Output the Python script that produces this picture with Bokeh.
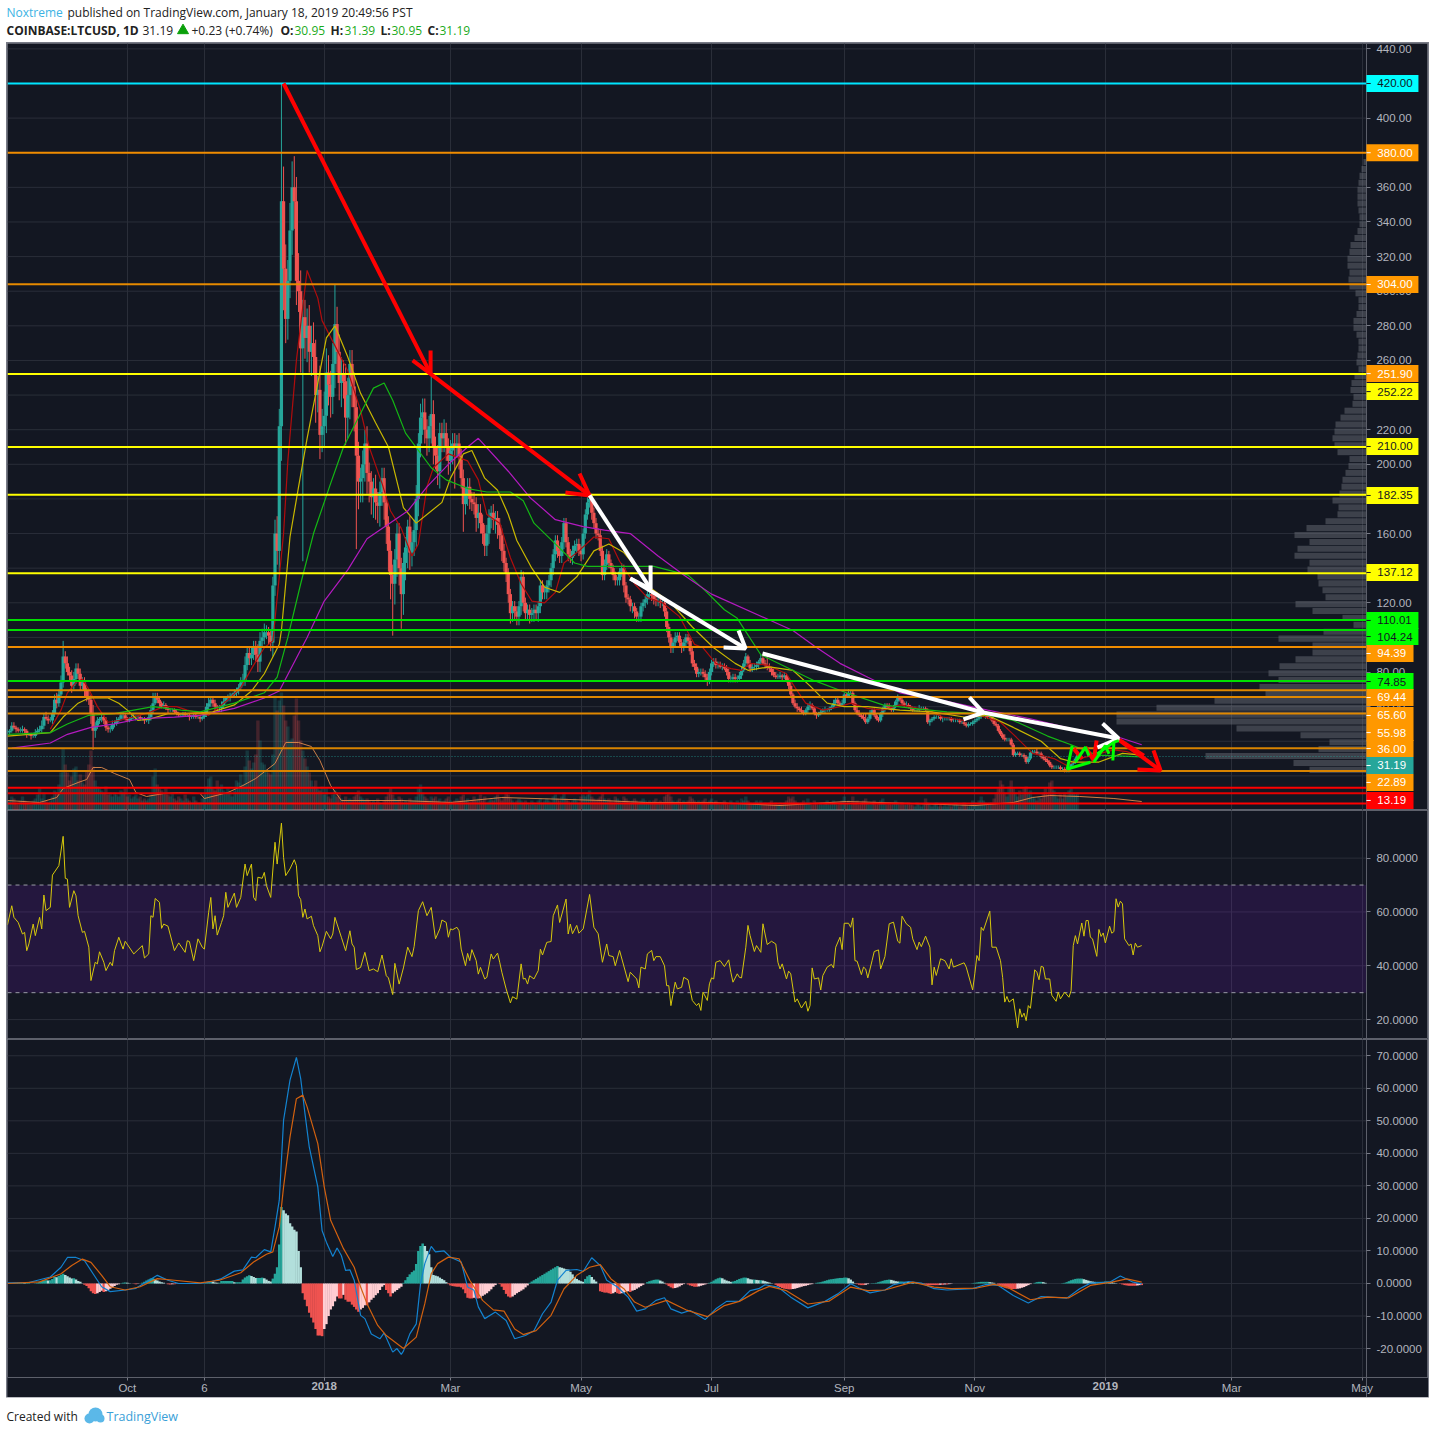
from bokeh.plotting import figure
from bokeh.layouts import column
from bokeh.models import (Range1d, LinearAxis, FixedTicker, Grid, Label, BoxAnnotation,
                          NumeralTickFormatter, ColumnDataSource)
from bokeh.core.properties import value
from bokeh.embed import file_html
from bokeh.resources import INLINE

closes = [
45,46,49,48,47,46,46,47,46,44, 44,43,43,45,46,47,49,54,53,52, 52,56,64,62,67,74,89,85,80,78,
72,76,82,79,72,74,69,66,64,56, 46,49,52,53,54,52,48,47,47,50, 50,52,53,55,55,53,52,53,54,54,
54,54,53,53,52,52,54,58,62,65, 64,62,60,61,59,58,58,58,57,56, 55,55,56,55,55,54,54,55,54,54,
53,54,56,60,62,64,62,60,59,59, 61,63,65,65,66,67,68,69,71,74, 75,84,91,88,90,94,90,86,98,100,
103,103,101,97,130,160,150,222,352,313, 284,306,335,360,352,306,300,267,285,273,
280,265,270,262,240,243,217,222,228,253, 246,239,258,281,265,247,252,248,227,240,
258,245,233,205,190,192,200,212,195,190, 181,186,178,176,184,192,178,164,150,136,
131,145,160,140,125,143,152,164,149,155, 162,180,212,227,230,220,215,222,229,210,
205,196,218,215,218,210,202,208,212,210, 212,205,192,177,182,187,180,178,177,169,
172,166,160,153,160,169,172,168,169,165, 159,150,143,137,125,114,118,115,112,118,
135,120,114,116,113,114,116,114,118,130, 126,126,130,133,140,148,156,150,147,155,
166,155,148,146,150,153,154,150,148,160, 171,178,180,172,166,160,159,150,136,142,
148,143,140,136,133,133,138,140,130,123, 122,118,118,115,112,112,118,120,122,125,
125,124,122,121,121,120,120,115,106,100, 94,97,100,101,97,94,97,100,98,92,
85,83,79,80,80,79,77,75,80,85, 86,84,84,83,83,82,80,76,76,77,
76,76,78,81,85,89,85,82,83,83, 84,86,88,85,84,83,82,80,78,77,
77,78,77,78,75,72,67,62,60,59, 58,57,56,58,60,61,59,56,55,56,
57,58,58,58,59,60,62,64,62,61, 62,67,66,68,68,62,58,56,55,54,
53,51,53,56,58,55,53,52,56,59, 61,60,59,58,60,63,65,64,62,61,
61,60,59,58,58,58,59,59,59,58, 51,52,53,54,54,54,53,53,53,53,
53,52,52,52,52,51,51,50,49,50, 50,51,52,53,54,55,55,55,54,54,
52,50,49,46,44,42,41,41,41,38, 32,33,33,32,32,31,28,30,33.5,34,
34,33,33,31,30,29,28,26,25,25, 25,25,24,24,23,23,25,27,28,30,
32,33,33,33,32,31,30,30,29,31, 32,33,33,33,34,35,36,36,37,40,
39,37,34,33,32,32,32,32,32,31, 31.19]

wick_up = [
2,1,2,2,1,1,2,2,1,1, 1,1,2,2,2,2,3,2,3,2, 2,2,3,4,3,4,9,3,4,3, 3,4,3,3,3,3,3,2,3,3,
5,2,2,1,2,2,2,1,2,2, 2,2,1,2,2,1,1,1,1,2, 1,1,1,1,1,1,2,3,6,3, 3,2,1,2,1,1,1,1,1,1,
1,1,1,1,1,1,1,1,1,1, 1,1,2,2,3,2,2,2,1,2, 2,2,1,2,2,1,2,2,2,3, 4,5,4,4,4,4,4,6,5,5,
5,4,3,3,5,8,10,10,68,20, 14,12,16,15,18,14,16,12,10,10, 10,12,10,12,10,8,14,10,14,14,
10,8,12,23,10,10,10,8,10,10, 8,8,8,6,8,6,8,8,10,6, 6,6,8,6,6,6,6,5,6,6, 6,6,6,6,6,6,6,4,6,6,
6,8,6,8,8,8,6,6,23,8, 6,6,6,6,8,6,5,6,6,6, 5,6,4,5,5,5,5,4,6,4, 5,5,5,5,5,5,4,5,4,4,
4,4,4,3,3,3,3,3,3,3, 4,3,3,3,3,3,3,3,3,3, 3,3,3,3,3,3,3,3,3,3, 3,3,3,3,3,3,3,3,3,3,
3,3,2,3,3,3,3,3,3,3, 3,2,2,2,2,2,2,3,2,2, 2,2,2,2,2,2,2,2,2,2, 2,2,2,2,2,2,2,2,2,2,
2,2,3,2,2,2,2,2,2,2, 2,2,2,2,2,2,2,2,2,2, 2,2,2,2,2,2,2,2,2,2, 2,2,2,2,2,2,1,2,2,2,
2,1,2,2,2,5,2,1,2,2, 2,2,1,2,1,2,2,1,2,2, 1,2,1,1,2,2,1,1,1,1, 1,1,2,1,1,1,2,1,1,1,
2,1,1,2,1,1,1,2,2,1, 2,3,1,2,1,1,1,1,1,1, 1,1,2,1,1,1,2,1,1,1, 2,1,1,1,2,1,2,1,1,1,
1,1,1,1,1,1,1,1,1,1, 1,1,1,1,1,1,1,1,1,1, 1,1,1,1,1,1,2,1,1,1, 1,1,1,1,1,1,2,1,1,1,
1,1,1,1,1,1,1,1,1,1, 1,2,1,1,1,1,1,1,1,1, 1,1,1,1,1,1,1,1,1,1, 1,1,1,1,1,1,1,1,2,1, 1,1,1,1,1,1,1,1,1,1, 1]

wick_dn = [
1,1,1,1,2,1,1,1,2,2, 1,2,1,1,1,1,2,2,1,2, 1,2,2,3,2,2,3,3,2,3, 4,2,3,3,3,2,3,3,3,6,
11,4,2,2,2,2,2,2,2,1, 2,1,1,1,2,1,1,1,1,1, 2,1,1,1,2,1,2,2,2,1, 2,2,1,1,1,2,1,1,1,1,
1,1,1,1,1,2,1,1,1,1, 2,1,1,2,2,2,2,2,1,2, 2,2,1,2,2,1,2,2,2,2, 2,3,3,4,4,3,4,6,6,4,
4,4,5,5,8,6,8,12,20,24, 14,12,10,14,16,14,12,14,123,12, 14,12,14,10,16,10,14,10,12,10,
12,12,10,14,12,10,14,10,16,12, 14,12,14,54,16,12,14,10,12,12, 10,12,10,10,12,8,10,10,12,14,
30,12,10,10,20,12,10,12,10,8, 8,10,10,8,10,8,10,8,10,10, 8,8,10,8,8,8,8,6,8,24,
6,8,6,16,6,6,6,5,6,8, 6,6,6,6,6,6,6,6,8,8, 8,6,5,5,5,6,5,5,5,5, 5,5,4,4,5,4,5,4,5,4,
4,4,4,4,4,4,4,4,4,4, 4,3,4,3,4,3,4,3,4,3, 3,3,3,4,3,3,3,3,3,3, 3,3,3,3,3,3,3,3,4,3,
3,3,4,4,3,3,3,3,3,3, 3,3,3,3,3,3,2,3,3,3, 3,3,2,2,2,3,2,2,2,2, 2,2,2,2,2,2,2,3,2,2,
2,2,2,1,2,1,2,2,2,2, 2,2,1,2,1,2,2,2,2,2, 2,2,2,1,2,2,2,2,1,1, 1,1,2,1,1,2,1,1,1,2,
1,1,1,1,2,2,1,1,2,1, 1,1,2,1,1,1,1,1,1,1, 1,1,1,1,1,1,1,1,1,1, 1,1,1,1,1,1,1,1,1,2,
2,1,1,1,1,1,2,1,1,1, 1,1,1,1,1,1,1,1,1,1, 1,2,1,1,1,1,1,2,1,1, 1,1,1,1,1,1,1,1,1,1,
1,1,1,1,1,1,1,2,1,1, 1,1,1,1,1,1,1,1,1,1, 1,1,1,1,1,1,1,1,1,1, 1,1,1,1,1,1,1,1,1,1, 1,1,1,1,1,1,1,1,1,1, 0]

volume = [
8,10,14,12,8,6,10,14,10,8, 8,6,10,12,16,22,12,18,10,8, 10,14,20,18,26,38,62,46,38,30,
34,42,44,30,36,28,26,40,46,60, 44,30,24,22,20,18,24,16,18,14, 18,16,14,20,18,22,14,16,12,14,
16,12,14,10,12,10,12,16,34,42, 26,22,20,18,22,16,14,18,12,10, 14,12,10,16,12,10,8,14,10,8,
8,12,16,24,32,34,22,20,30,22, 26,20,18,22,18,14,20,30,28,36, 26,44,60,50,42,48,56,90,70,48,
46,40,38,36,56,115,100,110,118,105, 90,84,70,72,95,112,90,70,60,52, 44,38,30,24,30,22,20,24,16,22,
14,12,16,20,14,16,12,10,14,10, 12,10,14,16,20,14,12,10,12,10, 8,10,8,12,8,6,10,14,18,22,
16,12,10,14,12,8,10,8,12,10, 10,14,22,26,18,14,12,10,14,12, 14,10,12,8,10,12,14,10,8,10,
12,10,14,16,10,12,8,10,14,10, 12,16,10,14,8,10,12,10,14,16, 12,10,14,18,16,12,10,8,10,12,
10,8,10,8,6,10,8,6,10,12, 8,10,12,10,8,14,16,12,10,14, 18,12,10,8,10,12,10,8,14,16,
14,16,20,14,12,10,12,14,18,12, 10,12,10,8,14,12,10,8,14,12, 10,8,10,12,10,8,10,12,10,8,
10,8,10,12,8,10,8,14,16,18, 14,10,8,10,12,8,10,8,10,14, 12,10,8,10,8,10,12,8,10,12,
8,10,8,6,8,10,8,6,10,8, 8,10,8,12,10,14,10,8,6,8, 10,8,10,6,8,6,8,10,6,8,
6,8,6,8,10,14,12,14,10,8, 6,8,10,8,12,8,6,10,8,6, 8,6,8,10,6,8,10,8,6,8,
10,14,8,10,6,14,8,10,6,8, 10,12,8,6,8,10,6,8,10,12, 8,6,8,6,8,10,8,6,8,6,
6,8,6,6,4,8,6,4,6,12, 8,6,4,6,8,4,6,4,6,4, 6,4,6,8,6,4,6,8,6,4,
6,10,8,6,10,14,10,8,6,8, 8,12,18,22,30,26,18,14,24,30, 22,18,14,20,16,22,24,18,20,14,
12,10,14,12,18,22,16,28,30,20, 14,12,16,12,18,14,20,22,18,16, 18,14,16,20,16,12,18,14,16,14,
12,14,10,12,14,18,12,14,18,14, 16,12,14,10,12,8,10,8,6,8, 6]

vol_ma_days = [0,15,23,26,33,37,40,44,50,57,60,65,73,80,90,92,103,110,116,125,130,136,142,146,151,156,184,207,231,278,298,330,361,392,423,452,470,479,487,501,517,530]
vol_ma = [10,8,13,22,28,31,43,43,37,31,18,14,17,18,17,12,18,25,32,47,68,68,64,50,25,10,10,8,13,10,8,8,5,9,7,5,8,13,15,14,12,9]

ma_red_days = [20,25,28,32,35,38,42,47,52,59,67,73,79,84,94,98,103,109,115,120,124,129,131,135,140,145,147,159,165,169,175,179,184,189,192,196,199,206,215,220,224,230,235,240,245,251,256,260,267,274,281,286,293,299,306,314,321,325,331,338,343,347,355,364,368,373,381,389,394,402,409,417,430,437,447,454,464,470,479,489,495,501,517,523,530]
ma_red = [47,58,68,74,76,70,60,51,52,54,57,60,60,58,55,59,64,71,84,94,98,160,202,260,312,296,283,254,231,210,189,173,163,147,154,187,198,206,202,191,171,166,146,131,121,120,126,143,150,158,157,144,131,123,120,112,96,94,85,82,81,85,84,79,71,62,58,60,62,59,58,61,58,54,52,55,51,44,33,30,26,30,35,34,31]
ma_yellow_days = [0,20,26,33,38,47,52,56,61,67,75,84,96,106,114,120,127,128,132,136,140,145,149,153,159,165,172,178,181,185,191,197,203,207,213,217,223,229,234,238,245,251,258,266,274,281,288,294,300,310,320,330,340,346,356,367,375,383,391,402,417,432,447,458,470,483,492,498,510,521,530]
ma_yellow = [43,45,54,62,65,65,62,58,52,53,56,56,57,61,69,79,96,104,158,187,215,247,273,280,262,241,224,210,195,175,166,172,178,192,206,208,192,185,171,156,140,129,126,135,150,154,149,140,129,120,106,94,85,81,83,81,72,62,60,60,58,57,54,55,48,40,30,28,28,33,32]
ma_green_days = [0,20,28,38,50,59,68,81,90,106,120,126,131,137,143,151,157,164,171,176,180,186,198,205,215,224,235,241,246,256,265,271,286,302,318,326,335,341,352,377,392,409,423,439,455,470,486,497,509,530]
ma_green = [44,45,50,55,56,58,60,58,57,62,68,77,100,131,160,189,210,227,244,247,237,218,198,191,186,184,184,179,166,154,143,141,141,141,136,127,116,111,90,75,68,61,59,57,56,52,43,38,32,31]
ma_magenta_days = [2,20,28,39,50,62,78,90,106,120,127,140,148,159,168,187,196,206,215,220,234,244,256,269,279,291,304,316,329,367,377,389,402,417,439,458,478,498,520,530]
ma_magenta = [36,39,44,48,50,53,54,55,59,65,69,100,121,139,157,173,187,200,210,215,196,181,168,164,162,160,147,136,125,104,95,85,77,68,63,58,53,47,42,38]

rsi_days = [0,2,3,5,7,8,9,10,12,13,15,16,17,18,20,21,24,26,27,28,29,31,32,33,35,36,38,39,41,42,43,45,46,48,49,50,52,54,55,59,63,64,66,67,68,69,71,72,73,75,78,80,83,84,85,87,89,91,92,94,95,96,97,98,100,101,102,103,106,107,109,111,112,114,115,116,117,119,120,121,123,125,126,128,129,130,132,134,135,136,137,138,139,140,142,143,145,146,147,149,151,152,153,154,156,158,160,161,162,163,165,167,169,171,173,175,177,178,180,181,183,185,187,189,190,192,194,196,198,200,202,203,205,206,207,208,210,211,212,214,215,216,217,219,220,221,223,224,226,227,229,230,231,233,235,236,238,240,241,242,243,244,246,248,249,250,252,254,255,257,258,261,262,263]
rsi = [55.2,62.3,58,56.1,51.8,52.4,45.6,48.1,55.5,51.2,58,53.7,66.3,60.5,61.7,73.7,77.2,88.1,72.5,72.2,61.7,67.9,66,58.6,52.4,52.8,46.9,34.5,41.3,40.7,45.2,41.3,38.2,41.3,40,45.6,50.6,46.2,49.1,44.4,47.5,42.9,44.4,58.6,58,65,63.6,53.9,55.5,54.7,45.6,48.5,45,49.3,49,41.9,50,46.9,46.2,59.9,65.4,53.7,58.6,51.4,56.1,58.6,67.3,61.7,67,61.7,65.4,77.8,73.5,77.8,65.4,64.2,72.9,72.5,74.7,69.8,65.4,85.9,77.8,93,80.3,73.5,76,79.4,77.2,66,64.6,58,61.1,57.4,58.4,54.9,51.2,45.2,47.2,52.8,50,51.8,58,55.5,50.6,45.6,53,48.1,46.9,38.6,39.4,45,38.2,38.8,37.8,44,36.3,35.5,29.3,40.9,33.2,39.2,46.9,43.4,47.1,60.5,63.8,58.6,61.7,50,53.7,57,56.1,50.6,53.7,53.4,54.3,53,46.2,40,44.6,41.9,46,41.9,36.9,39.4,35.1,35.7,44.4,42.5,44.7,41.3,37.6,31.4,26.2,28.5,27.6,40.7,35.1,35.3,33.2,36.3,35.1,38.2,46.2,44,48.7,49,58.6,62.6,56.1,64.8,51.8,55.5]
rsi_days2 = [264,266,267,269,272,274,276,278,280,281,283,284,285,286,290,291,294,295,296,298,299,301,302,303,305,307,308,309,310,312,313,315,316,318,320,322,323,324,325,327,328,329,330,331,333,335,337,338,339,341,342,343,345,346,347,349,350,352,353,355,357,359,360,361,362,364,365,366,368,369,371,373,374,375,376,377,379,380,381,383,385,386,387,389,390,391,393,394,395,396,397,399,400,401,402,404,405,407,408,410,412,414,416,417,418,420,422,423,425,426,427,429,431,432,433,434,436,438,440,441,442,447,448,451,452,453,454,455,456,459,460,462,464,465,466,467,468,470,472,473,474,475,476,477,478,480,481,482,483,484,485,487,488,490,491,492,494,496,497,498,499,500,502,503,504,505,506,507,509,510,511,512,513,515,516,517,518,519,520,521,522,524,525,526,527,528,530]
rsi2 = [51.9,55,52.1,53.7,66.5,54.3,51.9,41.3,48.1,43.8,43.4,40,42.9,45.7,34.1,37.6,35.1,31.8,39.5,38.8,44.4,45.7,41.9,43.4,43.4,40,32.6,32.6,25.2,33.9,31.4,32,35.7,34.8,27.1,25.2,26.1,23.4,30.2,27.1,33.3,35.5,35.1,41.3,41.9,39.7,42.2,37.6,33.9,37,35.7,35.5,46.9,55,51.2,45.3,47.5,45,55.6,47.9,49.1,48.1,41.3,38.8,40.7,35.1,38,37,26.5,27.7,24.3,26.8,23.1,25.2,39.2,35.1,35.5,31,36.4,39.5,40.5,39.2,46.9,50.6,46,55.8,55.8,54.3,57.8,41.9,41.7,36.7,39.5,38.8,35.5,41.9,45.3,45.9,38.8,43.4,55.6,56.2,49.1,48.4,58.4,55.6,54.3,50,46,48.8,47.1,51,46.9,32.9,39.5,36.4,42.6,41.9,38.8,42.6,39.5,41.1,39.5,31,37,43.8,41.9,54.3,53.1,60.3,46.9,46.9,41.9,35.7,26.5,28.6,26.5,27.7,16.9,24,20.9,22.4,19.6,25.2,24.2,38.5,37.6,34.8,39.8,39.5,35.1,35.1,29,26.8,30.2,27.7,30.2,28.3,30.8,47.5,51.2,48.1,55.9,51,56.8,56.8,50.6,50,43.5,53.5,50.9,52.2,48.5,54.7,52.1,52.7,64.9,61.8,64,63,50,47.5,48.1,44,48.4,46.9,47.5,46.3,47.1]

macd_days = [0,10,20,25,28,32,36,40,44,48,55,60,65,70,75,80,90,95,100,106,110,114,116,120,123,125,127,129,132,135,137,139,141,145,147,149,152,154,156,158,160,162,165,167,170,174,176,180,182,184,185,188,191,193,195,198,200,204,207,212,215,218,220,223,228,233,237,242,246,250,254,257,261,266,269,273,277,280,285,290,294,298,303,307,310,315,319,326,331,336,342,347,351,354,360,366,374,382,388,394,398,403,410,414,421,427,433,439,451,457,463,470,477,483,495,501,506,515,520,526,530]
macd = [0.2,0.3,2,5,8,8,7,3,-1,-2.5,-2,-1.5,0.5,2.5,1,0,0,0.5,1.5,3.8,4.2,8.1,7.9,10.4,9.7,17.4,25.6,50.2,62.5,69.5,63,52.2,42,29.7,16.3,12.7,8.3,10.9,8.6,4,4.2,1,-9.8,-10.8,-15.5,-17,-15.2,-21.1,-20,-21.8,-20.8,-15.5,-12.4,-0.1,6.1,11.4,9.7,10,8.1,6.6,-1.1,-2.1,-7.2,-10.8,-8.8,-11.4,-17,-16,-14.5,-9.3,-5.7,1,4,4.3,3.7,7.9,5.5,1,-1.1,-4.2,-8.5,-7.8,-5.2,-4.4,-7.8,-9.1,-8.3,-11.1,-7.8,-5.5,-5.4,-2.2,-1.6,-0.4,-1.1,-4.2,-7.5,-5.5,-3.2,-0.1,-1.4,-2.9,-2,-0.4,0.6,0.1,-1.6,-2,-1.6,-0.3,-0.6,-3.7,-6,-4,-4.5,-1.6,0.1,0.4,2.3,0.4,-0.1]
signal_days = [0,15,25,30,35,39,44,48,55,62,70,78,90,99,109,115,121,124,127,129,132,135,138,140,145,148,151,157,162,165,168,173,177,185,191,195,198,201,206,211,216,222,227,232,237,241,247,254,260,266,272,277,282,288,293,298,308,317,327,335,342,351,356,364,374,384,394,402,410,423,433,441,453,461,467,478,486,496,506,516,523,530]
signal = [0,0.5,3,5.5,7.5,6.5,2.5,-1,-2,-1,1.5,1,0.2,1,3.3,6.6,9,9.7,17.4,29.7,45,56.8,57.9,54.3,43,29.7,19.4,10.7,5,-1.1,-6.2,-12.9,-16,-20,-16.5,-6.2,3,6.1,8.1,7.6,1,-5.2,-8.1,-8.5,-14,-15.7,-14.5,-9.8,-1.7,2.5,5,5.8,1.4,-1.6,-5.7,-7.3,-5.2,-8.1,-10.2,-6.8,-5.5,-2.2,-0.9,-2.2,-6.3,-5.4,-1.1,-2.2,-2,0.4,-1.1,-1.6,-1.4,-0.3,-1.1,-5,-4.2,-4.4,-0.6,0.4,1.4,0.4]

histogram = [
0,0,0.1,0.2,0.2,0.3,0.3,0.3,0.2,0.2, 0.2,0,0,0.1,0.2,0.5,0.8,1,1,0.9, 1,1.4,2,1.9,2.3,2.7,3,2.6,2.2,1.8,
1.5,1.6,1.2,0.8,0.5,0.1,-0.4,-0.8,-1.5,-2.4, -3,-3.2,-3,-2.6,-2.2,-2.6,-2.4,-2,-1.6,-1.2,
-0.8,-0.4,-0.2,0.1,0.2,0.3,0.2,0.1,0,-0.1, -0.2,-0.1,0,0.2,0.5,0.9,1.2,1.5,1.6,1.3,
0.9,0.6,0.4,0.2,0,-0.2,-0.3,-0.2,-0.2,-0.1, 0,0,0.1,0,0,-0.1,-0.1,0,0,0, 0,0,0.1,0.3,0.5,0.6,0.5,0.3,0.2,0.2,
0.8,0.8,0.8,0.8,0.8,0.8,0.4,0.4,0.4,0.4, 1.2,1.8,2.2,2.5,2.3,2,1.7,1.7,1.7,1.8, 1.6,1.2,0.8,0.6,1.5,3,5,12,23.5,22.5,
21.5,21,18.5,17.5,16.5,16,10,5,-3,-5, -7,-9,-10.5,-12,-14,-16,-16,-16.2,-14,-12.5, -10,-8,-7,-5.5,-4,-4.6,-4.6,-3.5,-5,-5.6,
-5.6,-6.5,-7.2,-8,-8.7,-8,-7.5,-6.7,-6.7,-5.8, -5,-4.4,-3.6,-3,-2,-1,-0.5,-2,-3,-4, -3,-2.5,-2,-1.5,-1,0.2,1,2,2.8,3.5,
4,6,10,11.5,12.3,11.5,10,9,5,2.6, 2.4,2.2,1.8,1.4,1,0.4,-0.2,-0.6,-0.8,-0.9, -1,-1,-1.2,-1.8,-3,-4.4,-4.6,-4.6,-4.4,-4.6,
-4.6,-4.4,-3.8,-3.4,-3,-2.4,-1.8,-1,-0.5,0, -0.2,-1,-2,-3.2,-4,-4.3,-4,-3.5,-3,-2.6, -2.2,-1.8,-1.2,-0.6,0.2,0.6,1,1.4,1.8,2.2,
2.6,3,3.4,3.8,4.2,4.6,5,5.4,5,4.8, 4.6,4.4,4.3,3.6,2.8,2,1.4,1,0.7,0.5, 1.4,2.2,2.6,2,1.2,0.6,0,-2.4,-2.6,-2.8,
-2.8,-3,-3.2,-3,-2.6,-3,-3.2,-3,-2.8,-2.6, -2.4,-2.6,-2.2,-2,-1.6,-1.2,-0.8,-0.4,0,0.4, 0.7,0.9,1.1,1.2,1.2,0.9,0.6,0.2,-0.3,-0.8,
-1.2,-1.5,-1.4,-1.2,-0.9,-0.5,-0.2,0,-0.3,-0.6, -0.8,-1,-1,-0.9,-0.7,-0.5,-0.3,-0.1,0.2,0.5, 0.9,1.3,1.6,1.8,1.6,1.2,0.9,0.7,0.5,0.6,
0.8,1.1,1.4,1.6,1.8,1.8,1.6,1.3,1.2,1.2, 1.1,1,1,0.9,0.7,0.5,0.3,0.1,0,-0.4, -0.8,-1.1,-1.4,-1.6,-1.7,-1.8,-1.8,-1.7,-1.6,-1.4,
-1.2,-1,-0.8,-0.7,-0.5,-0.3,-0.2,0,0.2,0.3, 0.4,0.6,0.8,1,1.2,1.3,1.4,1.5,1.6,1.7, 1.7,1.8,1.8,1.6,1.2,0.6,0.1,-0.2,-0.4,-0.5,
-0.5,-0.4,-0.2,0,0.1,0.1,0.2,0.4,0.6,0.8, 1,1.1,1.2,1.1,0.9,0.7,0.6,0.6,0.6,0.5, 0.5,0.4,0.4,0.3,0.3,0.2,0.1,0,-0.2,-0.4,
-0.5,-0.5,-0.5,-0.5,-0.5,-0.5,-0.4,-0.4,-0.3,-0.3, -0.2,-0.1,0,0,0,0,0,0,0,0, 0,0.1,0.2,0.3,0.4,0.5,0.5,0.5,0.5,0.4,
0.3,0.2,0,-0.4,-0.8,-1.1,-1.3,-1.5,-1.6,-1.7, -1.7,-1.7,-1.6,-1.5,-1.3,-1.1,-0.8,-0.5,-0.2,0, 0.2,0.4,0.5,0.5,0.4,0.2,0,0,0,0,
0,0,0,0.1,0.2,0.4,0.7,1,1.2,1.4, 1.5,1.5,1.5,1.3,1.1,0.9,0.7,0.6,0.5,0.5, 0.5,0.5,0.5,0.6,0.6,0.5,0.4,0.2,0.1,0,
-0.1,-0.3,-0.5,-0.6,-0.7,-0.7,-0.7,-0.7,-0.6,-0.5, -0.5]

profile_top = 374.6
profile_step = 3.99
profile_volume = [3,5,7,8,9,9,9,8,7,7,9,12,16,17,19,19,17,18,17,11,8,8,10,13,13,10,8,8,9,10,8,12,15,16,13,14,22,26,31,32,34,32,29,17,18,21,24,25,27,34,28,29,41,60,72,57,69,72,57,59,49,48,44,41,71,54,24,13,43,88,54,54,71,87,98,88,107,101,152,210,250,250,130,66,37,48,161,73,57]

level_prices = [420,380,304,252.22,210,182.35,137.12,110.01,104.24,94.39,74.85,69.44,65.6,55.98,36,22.89,13.19,10,4]
level_colors = ["#00e5ff","#f08c00","#e68a00","#ffff00","#ffff00","#ffff00","#ffff00","#00e000","#00e000","#f08c00","#00e000","#e08800","#e08800","#e08800","#d98400","#d98400","#ff0000","#e60000","#ff0000"]

tag_texts = ["420.00","380.00","304.00","251.90","252.22","210.00","182.35","137.12","110.01","104.24","94.39","74.85","69.44","65.60","55.98","36.00","31.19","22.89","13.19"]
tag_prices = [420,380,303.9,252.4,242,210.3,182,137.5,109.8,100.5,90.7,74.5,65.3,54.9,45,35.8,26,16.2,5.8]
tag_fill = ["#00ffff","#ff9800","#ff9800","#ff9800","#ffff00","#ffff00","#ffff00","#ffff00","#00ff00","#00ff00","#ff9800","#00ff00","#ff9800","#ff9800","#ff9800","#ff9800","#26a69a","#ff9800","#ff0000"]
tag_text_color = ["#131722","#ffffff","#ffffff","#ffffff","#131722","#131722","#131722","#131722","#131722","#131722","#ffffff","#131722","#ffffff","#ffffff","#ffffff","#ffffff","#ffffff","#ffffff","#ffffff"]
tag_span = [24.3,24.3,24.3,24.3,24.3,24.3,24.3,24.3,24.3,24.3,22,22,22,22,22,22,22,22,22]

red_arrows = [([129,197.7],[420,252.2]),([189.3,197.7,197.7],[260,252.2,265.7]),([197.7,272],[252.2,182]),([260.7,272,267.3],[183.7,182,194.7]),
              ([519.2,538.8],[41,23.1]),([528,538.8,535.5],[23.7,23.1,34.7]),
              ([498.3,502.2],[35.6,29.8]),([503.7,507.6],[36.6,28.9]),([508.9,507.6],[40.4,28.9]),([520.1,531],[40.4,31.7])]
white_arrows = [([272,300.5],[182,128]),([300.5,300.5,291],[141.5,128,134]),([291,344.9],[134,93.6]),([334.6,344.9,341.6],[94.2,93.6,104]),
                ([352.8,456],[90.7,56.6]),([446.7,456,449.5],[52.6,56.6,65.3]),([456,519.2],[56.6,41.6]),([509.3,519.2,511.7],[36.4,41.6,50.3])]
green_arrows = [([497.5,495.2,506],[37.5,24,27.9]),([499,503.7,505.3],[27.9,36.6,31.7]),([507.6,513,514.7],[27.9,37.5,32.7]),
                ([509.2,517,516.5],[32.7,39.5,28.9]),([517,519.3],[39.5,40.4])]

x_ticks = [56,92,148,207,268,329,391,452,513,572,633]
x_labels = ["Oct","6","","Mar","May","Jul","Sep","Nov","","Mar","May"]
year_ticks = [148,513]
year_labels = ["2018","2019"]
price_ticks = [20*k for k in range(1,23)]
rsi_ticks = [20,40,60,80]
macd_ticks = [-20,-10,0,10,20,30,40,50,60,70]

BG = "#131722"; GRID = "#2a2e39"; LINE = "#787b86"; TXT = "#b2b5be"
UP = "#26a69a"; DOWN = "#ef5350"
FONT = "Liberation Sans"
AXIS_X = 635     # day at which the price scale sits
X_END = 664      # last day of the frame, under the right edge of the price scale
MACD_FLOOR = -28.9   # MACD value at the top of the time scale
MACD_BOTTOM = -35.05 # MACD value at the bottom of the time scale

def panel(h, y0, y1, ticks, fmt):
    p = figure(width=1421, height=h, x_range=Range1d(0, X_END), y_range=Range1d(y0, y1), output_backend="svg",
               toolbar_location=None, x_axis_location=None, y_axis_location=None,
               min_border_left=0, min_border_right=0, min_border_top=0, min_border_bottom=0,
               background_fill_color=BG, border_fill_color=BG, outline_line_color="#5d606b", margin=(0, 0, 0, 0))
    p.grid.visible = False
    p.add_layout(Grid(dimension=0, ticker=FixedTicker(ticks=x_ticks), grid_line_color=GRID, grid_line_width=1, level="underlay"))
    p.segment(x0=[0]*len(ticks), x1=[AXIS_X]*len(ticks), y0=ticks, y1=ticks, line_color=GRID, line_width=1, level="underlay")
    ax = LinearAxis(ticker=FixedTicker(ticks=ticks), formatter=NumeralTickFormatter(format=fmt), fixed_location=AXIS_X)
    ax.major_label_text_color = TXT; ax.major_label_text_font = FONT; ax.major_label_text_font_size = "11.5px"
    ax.axis_line_color = "#5d606b"; ax.major_tick_line_color = LINE; ax.major_tick_in = 0; ax.major_tick_out = 4
    ax.major_label_standoff = 6; ax.minor_tick_line_color = None
    p.add_layout(ax, "right")
    return p

days = list(range(len(closes)))
opens = [closes[0]] + closes[:-1]
bar_color = [UP if c >= o else DOWN for o, c in zip(opens, closes)]
highs = [max(o, c) + u for o, c, u in zip(opens, closes, wick_up)]
lows = [min(o, c) - d for o, c, d in zip(opens, closes, wick_dn)]
src = ColumnDataSource(dict(x=days, o=opens, c=closes, h=highs, l=lows, color=bar_color, v=volume))

# main panel
main = panel(767, 0, 443.1, price_ticks, "0.00")
main.extra_y_ranges["vol"] = Range1d(0, 767)
main.extra_x_ranges["vp"] = Range1d(1359, -62)
main.vbar(x="x", width=1.6, bottom=0, top="v", y_range_name="vol", source=src, color="color", alpha=0.22, line_width=0)
main.hbar(y=[profile_top - profile_step * k for k in range(len(profile_volume))], height=3.5, left=0, right=profile_volume,
          x_range_name="vp", color="#787b86", alpha=0.42, line_width=0)
main.line(vol_ma_days, vol_ma, y_range_name="vol", line_color="#e08a4a", line_width=1, line_alpha=0.9)
main.segment(x0="x", x1="x", y0="l", y1="h", source=src, color="color", line_width=1)
main.vbar(x="x", width=1.5, bottom="o", top="c", source=src, color="color", line_width=0)
main.line(ma_red_days, ma_red, line_color="#b00d0d", line_width=1.2)
main.line(ma_yellow_days, ma_yellow, line_color="#c9b800", line_width=1.2)
main.line(ma_green_days, ma_green, line_color="#14b814", line_width=1.2)
main.line(ma_magenta_days, ma_magenta, line_color="#b41ac0", line_width=1.2)
main.segment(x0=[0]*len(level_prices), x1=[AXIS_X]*len(level_prices), y0=level_prices, y1=level_prices,
             line_color=level_colors, line_width=2)
main.segment(x0=[0], x1=[AXIS_X], y0=[31.19], y1=[31.19], line_color=UP, line_width=1, line_dash="1 2", line_alpha=0.7)
for xs, ys in red_arrows:
    main.line(xs, ys, line_color="#ff0000", line_width=4)
for xs, ys in white_arrows:
    main.line(xs, ys, line_color="#ffffff", line_width=4)
for xs, ys in green_arrows:
    main.line(xs, ys, line_color="#00ff00", line_width=3)
n_tags = len(tag_texts)
main.quad(left=[AXIS_X]*n_tags, right=[AXIS_X + s for s in tag_span],
          bottom=[t - 4.9 for t in tag_prices], top=[t + 4.9 for t in tag_prices],
          fill_color=tag_fill, line_width=0, level="overlay")
main.segment(x0=[AXIS_X]*n_tags, x1=[AXIS_X + 2]*n_tags, y0=tag_prices, y1=tag_prices,
             line_color=tag_text_color, line_width=1, level="overlay")
main.text(x=[AXIS_X + 5.1]*n_tags, y=tag_prices, text=tag_texts, text_color=tag_text_color, text_font=value(FONT),
          text_font_size="11.5px", text_baseline="middle", text_align="left", level="overlay")

# RSI panel
rsi_p = panel(229, 12.6, 97.7, rsi_ticks, "0.0000")
rsi_p.add_layout(BoxAnnotation(left=0, right=AXIS_X, bottom=30, top=70, fill_color="#9915ff", fill_alpha=0.13, line_alpha=0, level="underlay"))
rsi_p.segment(x0=[0, 0], x1=[AXIS_X, AXIS_X], y0=[30, 70], y1=[30, 70], line_color="#9a9ca6", line_width=1, line_dash="4 4")
rsi_p.line(rsi_days + rsi_days2, rsi + rsi2, line_color="#d6c80c", line_width=1)

# MACD panel, whose frame also carries the time scale
macd_p = panel(358, MACD_BOTTOM, 75, macd_ticks, "0.0000")
hist_colors = []
prev = 0
for h in histogram:
    if h >= 0:
        hist_colors.append("#26a69a" if h >= prev else "#b2dfdb")
    else:
        hist_colors.append("#ef5350" if h <= prev else "#ffcdd2")
    prev = h
macd_p.vbar(x=days[:len(histogram)], width=1.2, bottom=0, top=histogram, color=hist_colors, line_width=0)
macd_p.line(macd_days, macd, line_color="#1383d0", line_width=1.2)
macd_p.line(signal_days, signal, line_color="#d2610f", line_width=1.2)
macd_p.quad(left=[0], right=[X_END], bottom=[MACD_BOTTOM], top=[MACD_FLOOR], color=BG, line_width=0, level="guide")
xax = LinearAxis(ticker=FixedTicker(ticks=x_ticks), major_label_overrides=dict(zip(x_ticks, x_labels)), fixed_location=MACD_FLOOR)
yax = LinearAxis(ticker=FixedTicker(ticks=year_ticks), major_label_overrides=dict(zip(year_ticks, year_labels)), fixed_location=MACD_FLOOR)
for a in (xax, yax):
    a.major_label_text_color = TXT; a.major_label_text_font = FONT; a.major_label_text_font_size = "11.5px"
    a.axis_line_color = "#5d606b"; a.major_tick_line_color = LINE; a.major_tick_in = 0; a.major_tick_out = 3
    a.major_label_standoff = 2; a.minor_tick_line_color = None
yax.major_label_text_font_style = "bold"
macd_p.add_layout(xax, "below")
macd_p.add_layout(yax, "below")

# header and footer (page-position text)
def strip(h, y0, y1):
    f = figure(width=1436, height=h, x_range=Range1d(0, 1436), y_range=Range1d(y1, y0), output_backend="svg",
               toolbar_location=None, x_axis_location=None, y_axis_location=None,
               min_border_left=0, min_border_right=0, min_border_top=0, min_border_bottom=0,
               background_fill_color="#ffffff", border_fill_color="#ffffff", outline_line_color=None)
    f.grid.visible = False
    return f

header = strip(43, 0, 43)
header_parts = [(6, 12, "Noxtreme", "#3bb3e4", "normal"), (67, 12, "published on TradingView.com, January 18, 2019 20:49:56 PST", "#222222", "normal"),
                (6, 30, "COINBASE:LTCUSD, 1D", "#222222", "bold"), (142, 30, "31.19", "#222222", "normal"),
                (191, 30, "+0.23 (+0.74%)", "#222222", "normal"),
                (280, 30, "O:", "#222222", "bold"), (294, 30, "30.95", "#1bab1b", "normal"),
                (330, 30, "H:", "#222222", "bold"), (344, 30, "31.39", "#1bab1b", "normal"),
                (380, 30, "L:", "#222222", "bold"), (391, 30, "30.95", "#1bab1b", "normal"),
                (427, 30, "C:", "#222222", "bold"), (439, 30, "31.19", "#1bab1b", "normal")]
for x, y, t, c, st in header_parts:
    header.add_layout(Label(x=x, y=y, text=t, text_color=c, text_font="Open Sans", text_font_size="12px",
                            text_font_style=st, text_baseline="middle", text_align="left"))
header.scatter([182.5], [30], marker="triangle", size=11, color="#0aa00a")

footer = strip(37, 1397, 1434)
footer.add_layout(Label(x=6, y=1416, text="Created with", text_color="#222222", text_font="Open Sans",
                        text_font_size="12px", text_baseline="middle", text_align="left"))
footer.add_layout(Label(x=106, y=1416, text="TradingView", text_color="#3a9fd8", text_font="Open Sans",
                        text_font_size="12.5px", text_baseline="middle", text_align="left"))
footer.circle([89, 95, 100], [1418, 1414, 1418], radius=[5, 7, 4], color="#5bb8e8", line_width=0)

inner = column(main, rsi_p, macd_p, margin=(0, 0, 0, 7), spacing=0, styles={"outline": "1px solid #787b86"})
page = column(header, inner, footer, spacing=0)
open("out.html", "w").write(file_html(page, INLINE))
